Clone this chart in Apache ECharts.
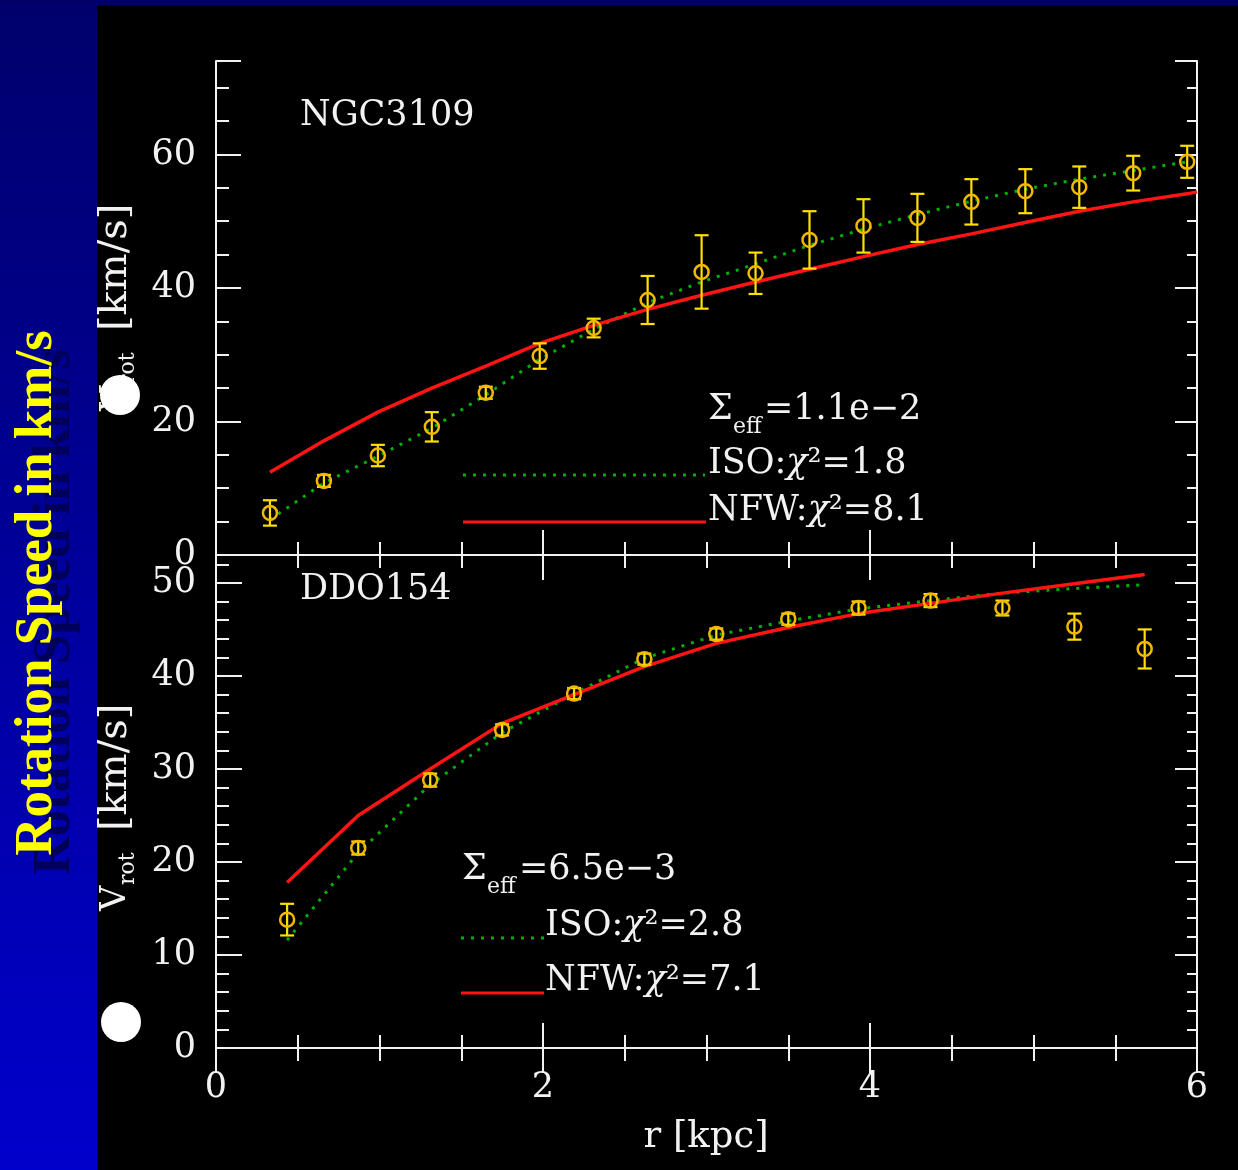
<!DOCTYPE html>
<html>
<head>
<meta charset="utf-8">
<script src="https://cdn.jsdelivr.net/npm/echarts@6/dist/echarts.min.js"></script>
<style>
  html, body { margin: 0; padding: 0; background: #000; }
  #chart { width: 1238px; height: 1170px; }
</style>
</head>
<body>
<div id="chart"></div>
<script>
// ---- NGC3109 rotation curve (r in kpc, V in km/s) ----
const ngcRadius = [0.33, 0.66, 0.99, 1.32, 1.65, 1.98, 2.31, 2.64, 2.97, 3.30, 3.63, 3.96, 4.29, 4.62, 4.95, 5.28, 5.61, 5.94];
const ngcVrot   = [6.3, 11.1, 14.9, 19.2, 24.3, 29.8, 34.0, 38.2, 42.4, 42.2, 47.2, 49.3, 50.5, 52.9, 54.5, 55.1, 57.2, 58.9];
const ngcErr    = [1.9, 0.9, 1.6, 2.2, 0.9, 1.9, 1.4, 3.6, 5.5, 3.1, 4.3, 4.0, 3.6, 3.4, 3.3, 3.1, 2.6, 2.4];
const ngcIsoFit = [5.3, 10.8, 14.8, 19.0, 24.0, 29.3, 33.8, 37.8, 40.9, 43.6, 46.4, 48.8, 51.0, 53.0, 54.8, 56.3, 57.6, 58.9];
const ngcNfwRadius = [0.33, 0.66, 0.99, 1.32, 1.65, 1.98, 2.31, 2.64, 2.97, 3.30, 3.63, 3.96, 4.29, 4.62, 4.95, 5.28, 5.61, 5.94, 6.0];
const ngcNfwFit    = [12.4, 17.1, 21.4, 25.0, 28.3, 31.7, 34.4, 36.8, 38.9, 40.9, 42.8, 44.7, 46.5, 48.1, 49.8, 51.5, 52.9, 54.1, 54.4];

// ---- DDO154 rotation curve ----
const ddoRadius = [0.435, 0.87, 1.31, 1.75, 2.19, 2.62, 3.06, 3.50, 3.93, 4.37, 4.81, 5.25, 5.68];
const ddoVrot   = [13.8, 21.5, 28.8, 34.2, 38.1, 41.8, 44.5, 46.1, 47.3, 48.1, 47.3, 45.3, 42.9];
const ddoErr    = [1.7, 0.7, 0.7, 0.6, 0.6, 0.6, 0.6, 0.6, 0.7, 0.7, 0.8, 1.4, 2.1];
const ddoIsoFit = [11.6, 21.0, 28.3, 33.9, 38.1, 41.9, 44.4, 45.9, 47.2, 48.1, 48.9, 49.4, 49.8];
const ddoNfwFit = [17.8, 25.0, 30.0, 34.9, 38.0, 41.0, 43.5, 45.2, 46.7, 47.8, 48.9, 49.9, 50.9];

// ---- axis tick labels ----
const radiusTicks = [0, 2, 4, 6];
const ngcVTicks   = [0, 20, 40, 60];
const ddoVTicks   = [0, 10, 20, 30, 40, 50];

const WHITE = '#f2f2f2';
const SERIF = 'DejaVu Serif';
const ISO_GREEN = '#00b000';
const NFW_RED = '#ff1414';

const zip = (xs, ys) => xs.map((x, i) => [x, ys[i]]);
const zip3 = (xs, ys, es) => xs.map((x, i) => [x, ys[i], es[i]]);

// circle marker with vertical error bar and caps
function renderErrPoint(params, api) {
  const x = api.value(0), y = api.value(1), e = api.value(2);
  const c = api.coord([x, y]);
  const hi = api.coord([x, y + e]);
  const lo = api.coord([x, y - e]);
  const cap = 7, r = 7;
  const barStyle = { stroke: '#ffe000', lineWidth: 2.2 };
  return {
    type: 'group',
    children: [
      { type: 'line', shape: { x1: c[0], y1: hi[1], x2: c[0], y2: lo[1] }, style: barStyle },
      { type: 'line', shape: { x1: c[0] - cap, y1: hi[1], x2: c[0] + cap, y2: hi[1] }, style: barStyle },
      { type: 'line', shape: { x1: c[0] - cap, y1: lo[1], x2: c[0] + cap, y2: lo[1] }, style: barStyle },
      { type: 'circle', shape: { cx: c[0], cy: c[1], r: r }, style: { fill: 'none', stroke: '#f2b800', lineWidth: 2.5 } }
    ]
  };
}

const axisLineStyle = { show: true, lineStyle: { color: WHITE, width: 2 } };

function xAxisDef(gridIndex, position, showLabels) {
  return {
    type: 'value', gridIndex, position, min: 0, max: 6, interval: 2,
    axisLine: axisLineStyle,
    axisTick: { show: true, inside: true, length: 25, lineStyle: { color: WHITE, width: 2 } },
    minorTick: { show: true, splitNumber: 4, length: 13, lineStyle: { color: WHITE, width: 2 } },
    splitLine: { show: false }, minorSplitLine: { show: false },
    axisLabel: showLabels
      ? { show: true, customValues: radiusTicks, color: WHITE, fontFamily: SERIF, fontSize: 35, margin: 22 }
      : { show: false }
  };
}

function yAxisDef(gridIndex, position, max, interval, tickLen, showLine, labels) {
  return {
    type: 'value', gridIndex, position, min: 0, max, interval,
    axisLine: showLine ? axisLineStyle : { show: false },
    axisTick: { show: true, inside: true, length: tickLen, lineStyle: { color: WHITE, width: 2 } },
    splitLine: { show: false },
    axisLabel: labels
      ? { show: true, customValues: labels, color: WHITE, fontFamily: SERIF, fontSize: 35, margin: 20 }
      : { show: false }
  };
}

function txt(x, y, text, extra) {
  return {
    type: 'text', x, y, z: 50,
    style: Object.assign({ text, fill: WHITE, font: '35px "DejaVu Serif"', align: 'left', verticalAlign: 'middle' }, extra || {})
  };
}

function richTxt(x, y, text) {
  return {
    type: 'text', x, y, z: 50,
    style: {
      text, align: 'left', verticalAlign: 'middle',
      rich: {
        n: { fill: WHITE, fontFamily: SERIF, fontSize: 35 },
        i: { fill: WHITE, fontFamily: SERIF, fontSize: 35, fontStyle: 'italic' }
      }
    }
  };
}

function keyLine(x1, x2, y, color, dash) {
  return {
    type: 'line', z: 50,
    shape: { x1, y1: y, x2, y2: y },
    style: { stroke: color, lineWidth: 3, lineDash: dash || null }
  };
}

// rotated "V_rot [km/s]" axis title; yBase is the lower end of the "V"
function vrotLabel(yBase) {
  return [
    { type: 'text', x: 116, y: yBase, rotation: Math.PI / 2, z: 50,
      style: { text: 'V', fill: WHITE, font: '35px "DejaVu Serif"', align: 'left', verticalAlign: 'middle' } },
    { type: 'text', x: 128, y: yBase - 26, rotation: Math.PI / 2, z: 50,
      style: { text: 'rot', fill: WHITE, font: '22px "DejaVu Serif"', align: 'left', verticalAlign: 'middle' } },
    { type: 'text', x: 116, y: yBase - 80, rotation: Math.PI / 2, z: 50,
      style: { text: '[km/s]', fill: WHITE, font: '40px "DejaVu Serif"', align: 'left', verticalAlign: 'middle' } }
  ];
}

const graphics = [
  // panel titles
  txt(300, 116, 'NGC3109'),
  txt(300, 590, 'DDO154'),
  // key, upper panel
  txt(708, 410, 'Σ'),
  txt(733, 427, 'eff', { font: '22px "DejaVu Serif"' }),
  txt(764, 410, '=1.1e−2'),
  keyLine(463, 705, 475, ISO_GREEN, [3, 7]),
  richTxt(708, 464, '{n|ISO:}{i|χ}{n|²=1.8}'),
  keyLine(463, 706, 522, NFW_RED),
  richTxt(708, 511, '{n|NFW:}{i|χ}{n|²=8.1}'),
  // key, lower panel
  txt(462, 870, 'Σ'),
  txt(487, 887, 'eff', { font: '22px "DejaVu Serif"' }),
  txt(519, 870, '=6.5e−3'),
  keyLine(461, 544, 938, ISO_GREEN, [3, 7]),
  richTxt(545, 926, '{n|ISO:}{i|χ}{n|²=2.8}'),
  keyLine(461, 544, 993, NFW_RED),
  richTxt(545, 981, '{n|NFW:}{i|χ}{n|²=7.1}'),
  // x-axis title
  txt(706, 1137, 'r [kpc]', { align: 'center', font: '37px "DejaVu Serif"' })
].concat(vrotLabel(411), vrotLabel(911), [
  // blue side band and top band
  {
    type: 'rect', z: 100, shape: { x: 0, y: 0, width: 97, height: 1170 },
    style: { fill: new echarts.graphic.LinearGradient(0, 0, 0, 1, [
      { offset: 0, color: '#00006c' }, { offset: 1, color: '#0000cc' }
    ]) }
  },
  { type: 'rect', z: 100, shape: { x: 0, y: 0, width: 1238, height: 5 }, style: { fill: '#000068' } },
  // slide title, with its dark offset copy behind
  {
    type: 'text', x: 55, y: 612, rotation: Math.PI / 2, z: 101,
    style: { text: 'Rotation Speed in km/s', fill: '#00005c', font: 'bold 53px "Liberation Serif"', align: 'center', verticalAlign: 'middle' }
  },
  {
    type: 'text', x: 37, y: 593, rotation: Math.PI / 2, z: 102,
    style: { text: 'Rotation Speed in km/s', fill: '#ffff00', font: 'bold 53px "Liberation Serif"', align: 'center', verticalAlign: 'middle' }
  },
  // bullet dots
  { type: 'circle', z: 103, shape: { cx: 120, cy: 395, r: 20 }, style: { fill: '#ffffff' } },
  { type: 'circle', z: 103, shape: { cx: 121, cy: 1022, r: 20 }, style: { fill: '#ffffff' } }
]);

const chart = echarts.init(document.getElementById('chart'), null, { renderer: 'canvas' });
chart.setOption({
  backgroundColor: '#000000',
  animation: false,
  grid: [
    { left: 216, top: 61, width: 981, height: 494 },
    { left: 216, top: 555, width: 981, height: 493 }
  ],
  xAxis: [
    xAxisDef(0, 'bottom', false),
    xAxisDef(0, 'top', false),
    xAxisDef(1, 'top', false),
    xAxisDef(1, 'bottom', true)
  ],
  yAxis: [
    yAxisDef(0, 'left', 74, 20, 25, true, ngcVTicks),
    yAxisDef(0, 'left', 74, 5, 13, false, null),
    yAxisDef(0, 'right', 74, 20, 22, true, null),
    yAxisDef(0, 'right', 74, 5, 10, false, null),
    yAxisDef(1, 'left', 53, 10, 26, true, ddoVTicks),
    yAxisDef(1, 'left', 53, 2, 13, false, null),
    yAxisDef(1, 'right', 53, 10, 22, true, null),
    yAxisDef(1, 'right', 53, 2, 10, false, null)
  ],
  series: [
    {
      name: 'NGC3109 ISO', type: 'line', xAxisIndex: 0, yAxisIndex: 0,
      data: zip(ngcRadius, ngcIsoFit), symbol: 'none', z: 2,
      lineStyle: { color: ISO_GREEN, width: 3, type: [3, 7] }
    },
    {
      name: 'NGC3109 NFW', type: 'line', xAxisIndex: 0, yAxisIndex: 0,
      data: zip(ngcNfwRadius, ngcNfwFit), symbol: 'none', z: 3,
      lineStyle: { color: NFW_RED, width: 3.5 }
    },
    {
      name: 'NGC3109 data', type: 'custom', xAxisIndex: 0, yAxisIndex: 0, z: 4,
      renderItem: renderErrPoint, data: zip3(ngcRadius, ngcVrot, ngcErr)
    },
    {
      name: 'DDO154 ISO', type: 'line', xAxisIndex: 3, yAxisIndex: 4,
      data: zip(ddoRadius, ddoIsoFit), symbol: 'none', z: 2,
      lineStyle: { color: ISO_GREEN, width: 3, type: [3, 7] }
    },
    {
      name: 'DDO154 NFW', type: 'line', xAxisIndex: 3, yAxisIndex: 4,
      data: zip(ddoRadius, ddoNfwFit), symbol: 'none', z: 3,
      lineStyle: { color: NFW_RED, width: 3.5 }
    },
    {
      name: 'DDO154 data', type: 'custom', xAxisIndex: 3, yAxisIndex: 4, z: 4,
      renderItem: renderErrPoint, data: zip3(ddoRadius, ddoVrot, ddoErr)
    }
  ],
  graphic: graphics
});
</script>
</body>
</html>
